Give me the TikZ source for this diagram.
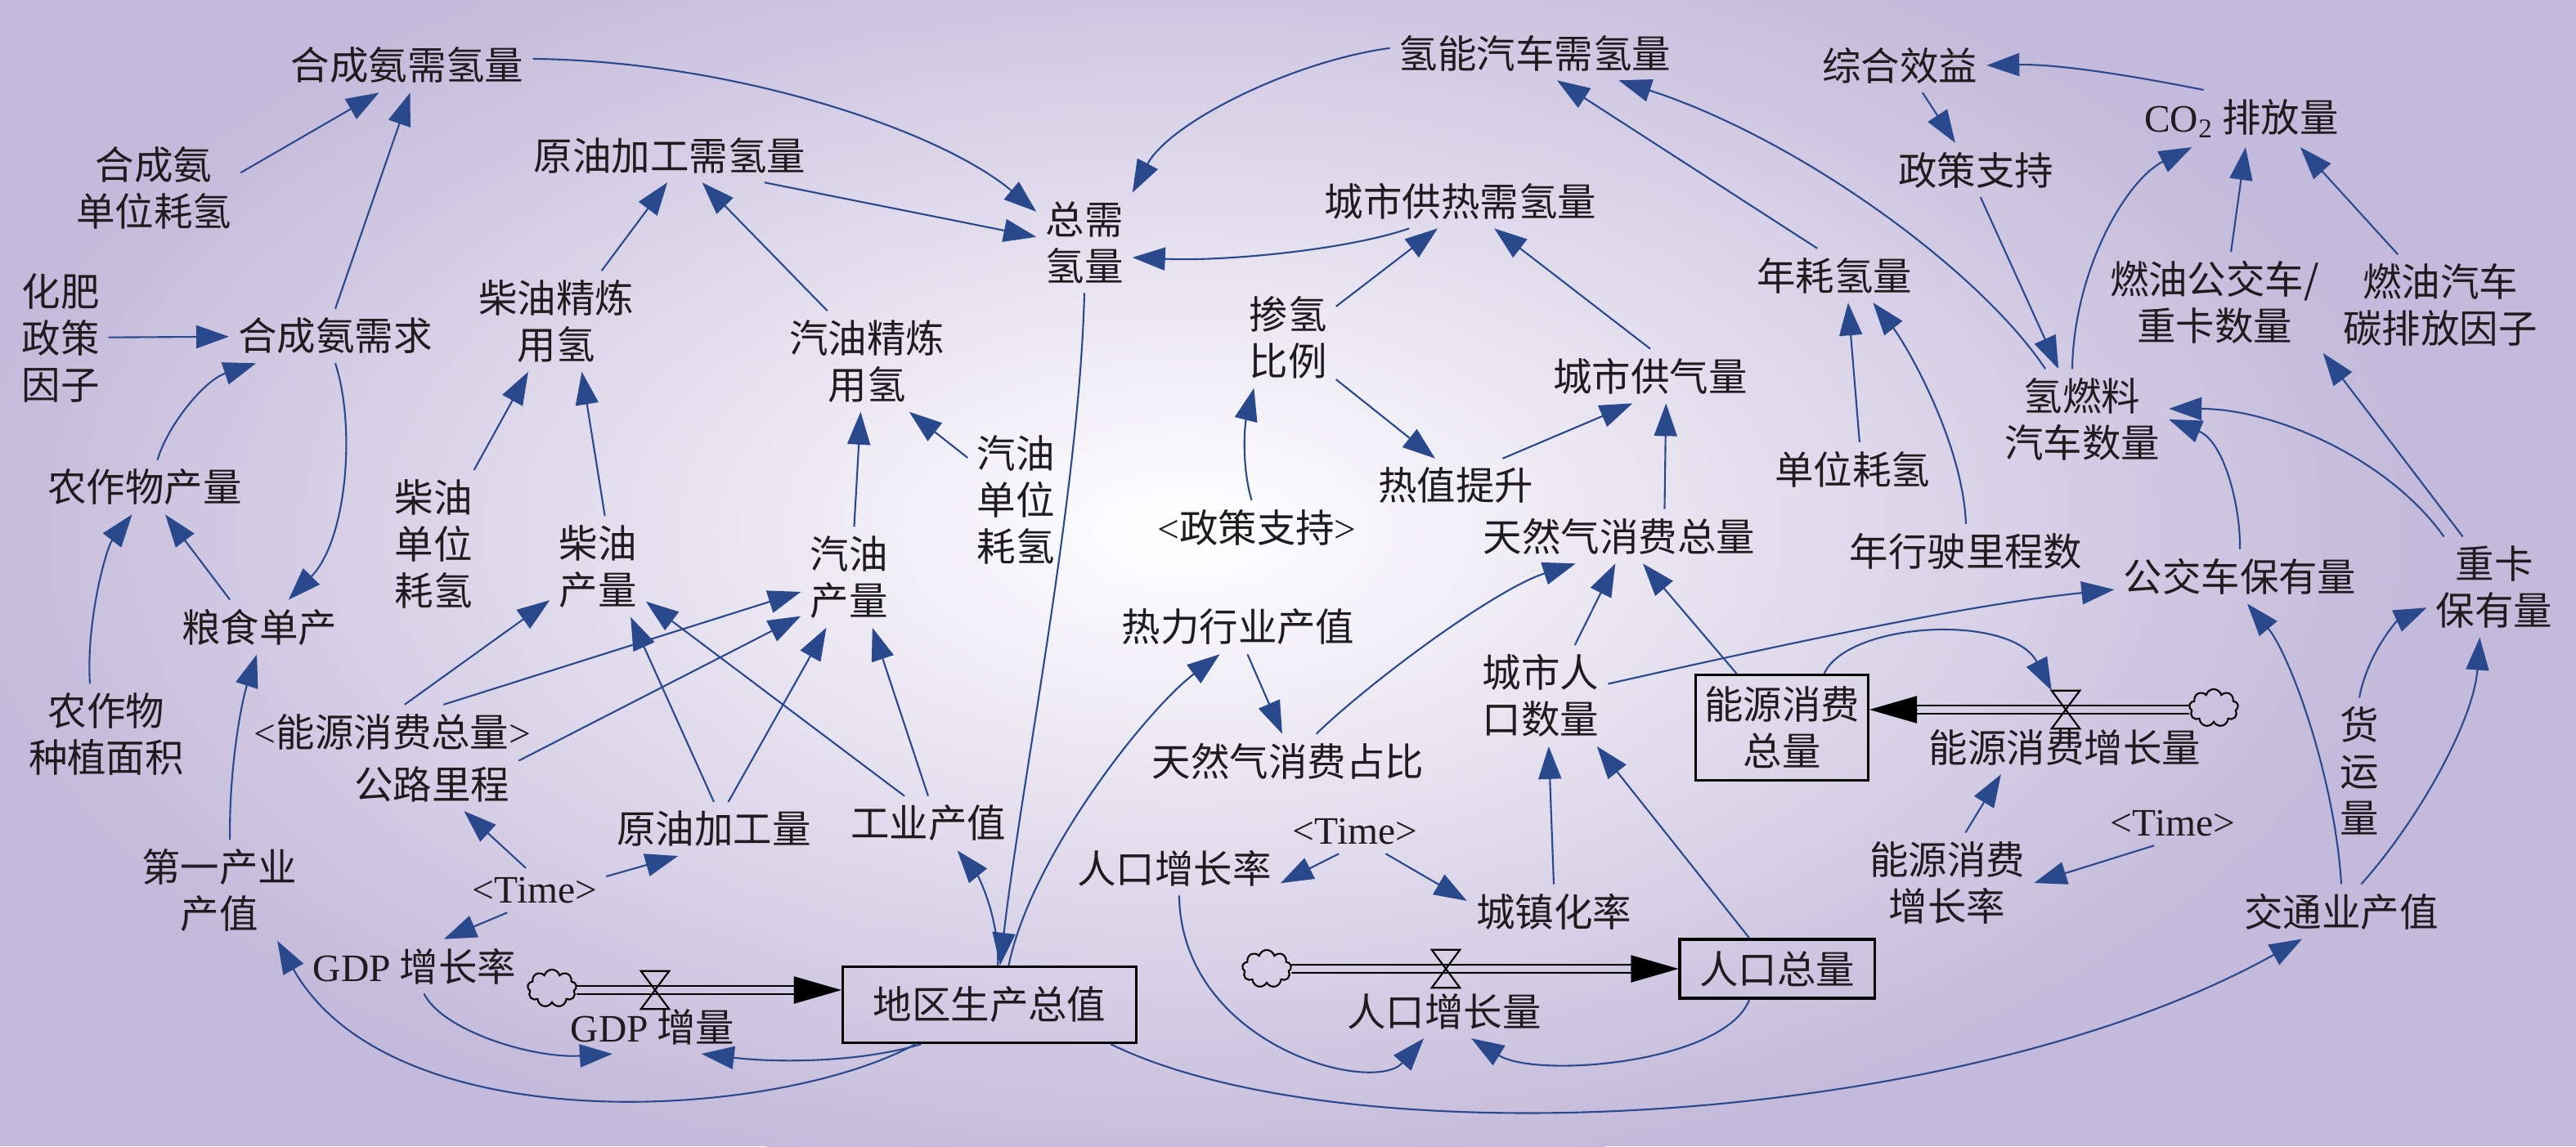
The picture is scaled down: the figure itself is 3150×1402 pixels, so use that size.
\documentclass[tikz,border=0pt]{standalone}
\usepackage{fontspec}
\setmainfont{Liberation Serif}
\newfontfamily\cjk{Noto Sans CJK SC}
\usetikzlibrary{arrows.meta,shapes.symbols}
\definecolor{bgedge}{RGB}{196,186,219}
\definecolor{linkblue}{RGB}{42,73,140}
\definecolor{txt}{RGB}{30,28,30}
\newcommand{\lat}[1]{{\rmfamily #1}}
\tikzset{
  var/.style={font=\cjk\fontsize{13.5}{16.2}\selectfont, text=txt, align=center, inner sep=3pt},
  stock/.style={var, draw=black, line width=0.9pt},
  link/.style={linkblue, line width=0.6pt, -{Triangle[length=0.4cm,width=0.28cm]}},
  pipe/.style={black, line width=0.6pt},
  flowhead/.style={black, line width=0.1pt, -{Triangle[length=16.5pt,width=9.5pt]}},
  valve/.style={minimum width=0.33cm, minimum height=0.45cm, inner sep=0pt},
  valvemark/.style={black, line width=0.6pt},
  source/.style={cloud, cloud puffs=9, aspect=1.3, draw=black, line width=0.6pt,
    minimum width=0.6cm, minimum height=0.46cm, inner sep=0pt}
}
\begin{document}
\begin{tikzpicture}[x=0.01cm,y=-0.01cm]
\useasboundingbox (0,0) rectangle (3150,1402);
\fill[bgedge] (0,0) rectangle (3150,1402);
\begin{scope}
\clip (0,0) rectangle (3150,1402);
\shade[inner color=white,outer color=bgedge] (1450,650) ellipse [x radius=15cm,y radius=8cm];
\end{scope}
% left part
\node[var] (hqxql) at (498,80) {合成氨需氢量};
\node[var] (hcadw) at (188,230) {合成氨\\单位耗氢};
\node[var] (hfzc) at (74,413) {化肥\\政策\\因子};
\node[var] (hcaxq) at (410,411) {合成氨需求};
\node[var] (yyjg) at (819,190) {原油加工需氢量};
\node[var] (cyjl) at (680,393) {柴油精炼\\用氢};
\node[var] (qyjl) at (1060,442) {汽油精炼\\用氢};
\node[var] (nzcl) at (177,596) {农作物产量};
\node[var] (cydw) at (530,665) {柴油\\单位\\耗氢};
\node[var] (cycl) at (731,693) {柴油\\产量};
\node[var] (qycl) at (1038,706) {汽油\\产量};
\node[var] (qydw) at (1242,611) {汽油\\单位\\耗氢};
\node[var] (lsdc) at (317,767) {粮食单产};
\node[var] (nzmj) at (130,898) {农作物\\种植面积};
\node[var] (nyxf) at (480,895) {\lat{<}能源消费总量\lat{>}};
\node[var] (glc) at (528,959) {公路里程};
\node[var] (dycz) at (268,1089) {第一产业\\产值};
\node[var] (time1) at (654,1089) {\lat{<Time>}};
\node[var] (yyjl) at (873,1014) {原油加工量};
\node[var] (gdpr) at (507,1182) {\lat{GDP} 增长率};
\node[var] (gdpd) at (798,1256) {\lat{GDP} 增量};
\node[var] (gyz) at (1135,1007) {工业产值};
\node[stock, minimum width=3.59cm, minimum height=0.93cm] (grp) at (1210,1229) {地区生产总值};
% middle part
\node[var] (zxq) at (1326,297) {总需\\氢量};
\node[var] (hyxq) at (1877,65) {氢能汽车需氢量};
\node[var] (gr) at (1786,246) {城市供热需氢量};
\node[var] (cq) at (1575,413) {掺氢\\比例};
\node[var] (gql) at (2018,460) {城市供气量};
\node[var] (rzt) at (1780,594) {热值提升};
\node[var] (zc2) at (1537,645) {\lat{<}政策支持\lat{>}};
\node[var] (trq) at (1980,656) {天然气消费总量};
\node[var] (rlc) at (1514,767) {热力行业产值};
\node[var] (trqzb) at (1575,931) {天然气消费占比};
\node[var] (csrk) at (1884,851) {城市人\\口数量};
\node[var] (time2) at (1657,1017) {\lat{<Time>}};
\node[var] (rkr) at (1436,1062) {人口增长率};
\node[var] (czh) at (1900,1115) {城镇化率};
\node[var] (rkl) at (1766,1237) {人口增长量};
\node[stock, minimum width=2.38cm, minimum height=0.72cm] (rkz) at (2173,1185) {人口总量};
% right part
\node[var] (zhxy) at (2323,80) {综合效益};
\node[var] (co2) at (2741,145) {\lat{CO\textsubscript{2}} 排放量};
\node[var] (zc) at (2416,208) {政策支持};
\node[var] (nhq) at (2243,337) {年耗氢量};
\node[var] (ryg) at (2708,370) {燃油公交车/\\重卡数量};
\node[var] (rycp) at (2984,373) {燃油汽车\\碳排放因子};
\node[var] (qrl) at (2546,513) {氢燃料\\汽车数量};
\node[var] (dwhq) at (2265,574) {单位耗氢};
\node[var] (nxs) at (2404,674) {年行驶里程数};
\node[var] (gjc) at (2739,705) {公交车保有量};
\node[var] (zk) at (3050,718) {重卡\\保有量};
\node[stock, minimum width=2.02cm, minimum height=1.29cm] (nyz) at (2179,890) {能源消费\\总量};
\node[var] (nyzl) at (2525,914) {能源消费增长量};
\node[var] (nyr) at (2381,1080) {能源消费\\增长率};
\node[var] (time3) at (2657,1007) {\lat{<Time>}};
\node[var] (jty) at (2863,1115) {交通业产值};
\node[var] (hyl) at (2885,943) {货\\运\\量};
% flows
\node[source] (cl1) at (675,1209) {};
\node[valve] (v1) at (801,1211) {};
\coordinate (e1) at (grp.west |- v1);
\draw[pipe] ([yshift=1.4pt]cl1.east |- v1) -- ([xshift=-14pt,yshift=1.4pt]e1);
\draw[pipe] ([yshift=-1.4pt]cl1.east |- v1) -- ([xshift=-14pt,yshift=-1.4pt]e1);
\draw[flowhead] ([xshift=-16.5pt]e1) -- (e1);
\draw[valvemark] (v1.north west) -- (v1.north east) -- (v1.south west) -- (v1.south east) -- cycle;
\node[source] (cl2) at (1549,1185) {};
\node[valve] (v2) at (1768,1185) {};
\coordinate (e2) at (rkz.west |- v2);
\draw[pipe] ([yshift=1.4pt]cl2.east) -- ([xshift=-14pt,yshift=1.4pt]e2);
\draw[pipe] ([yshift=-1.4pt]cl2.east) -- ([xshift=-14pt,yshift=-1.4pt]e2);
\draw[flowhead] ([xshift=-16.5pt]e2) -- (e2);
\draw[valvemark] (v2.north west) -- (v2.north east) -- (v2.south west) -- (v2.south east) -- cycle;
\node[source] (cl3) at (2707,866) {};
\node[valve] (v3) at (2526,868) {};
\coordinate (e3) at (nyz.east |- v3);
\draw[pipe] ([yshift=1.4pt]cl3.west |- v3) -- ([xshift=14pt,yshift=1.4pt]e3);
\draw[pipe] ([yshift=-1.4pt]cl3.west |- v3) -- ([xshift=14pt,yshift=-1.4pt]e3);
\draw[flowhead] ([xshift=16.5pt]e3) -- (e3);
\draw[valvemark] (v3.north west) -- (v3.north east) -- (v3.south west) -- (v3.south east) -- cycle;
% links, left
\draw[link] (hcadw.10) -- (hqxql.224);
\draw[link] (hcaxq.north) -- (hqxql.276);
\draw[link] (hfzc) -- (hcaxq);
\draw[link] (nzcl.65) .. controls (205,520) and (250,465) .. (hcaxq.199);
\draw[link] (hcaxq.south) .. controls (435,520) and (425,660) .. (lsdc.43);
\draw[link] (nzmj.108) .. controls (105,760) and (130,670) .. (nzcl.245);
\draw[link] (lsdc.137) -- (nzcl.307);
\draw[link] (dycz.78) .. controls (280,940) and (295,860) .. (lsdc.265);
\draw[link] (cyjl.48) -- (yyjg.265);
\draw[link] (qyjl.128) -- (yyjg.320);
\draw[link] (cydw) -- (cyjl);
\draw[link] (cycl.82) -- (cyjl.297);
\draw[link] (qycl.84) -- (qyjl.263);
\draw[link] (qydw.139) -- (qyjl.310);
\draw[link] (hqxql.3) .. controls (900,75) and (1150,160) .. (zxq.147);
\draw[link] (yyjg.344) -- (zxq.173);
\draw[link] (time1.112) -- (glc.320);
\draw[link] (time1.11) -- (yyjl.217);
\draw[link] (time1.219) -- (gdpr.43);
\draw[link] (nyxf.66) -- (cycl.215);
\draw[link] (nyxf.28) -- (qycl.197);
\draw[link] (glc.15) -- (qycl.219);
\draw[link] (yyjl.north) -- (cycl.303);
\draw[link] (yyjl.62) -- (qycl.246);
\draw[link] (gyz.north) -- (qycl.295);
\draw[link] (gyz.131) -- (cycl.-36);
\draw[link] (gdpr.289) .. controls (540,1260) and (650,1295) .. (gdpd.214);
\draw[link] (grp.210) .. controls (1050,1300) and (950,1300) .. (gdpd.331);
\draw[link] (grp.208) .. controls (950,1370) and (480,1400) .. (dycz.319);
% links, middle
\draw[link] (hyxq.178) .. controls (1580,75) and (1430,150) .. (zxq.north east);
\draw[link] (gr.208) .. controls (1650,305) and (1500,320) .. (zxq.-17);
\draw[link] (cq.33) -- (gr.230);
\draw[link] (gql.north) -- (gr.321);
\draw[link] (zc2.101) .. controls (1518,570) and (1522,520) .. (cq.236);
\draw[link] (cq.-41) -- (rzt.127);
\draw[link] (rzt.30) -- (gql.237);
\draw[link] (trq.31) -- (gql.300);
\draw[link] (zxq.south) .. controls (1320,600) and (1250,950) .. (grp.75);
\draw[link] (grp.78) .. controls (1222,1120) and (1195,1070) .. (gyz.317);
\draw[link] (grp.64) .. controls (1260,1050) and (1400,870) .. (rlc.236);
\draw[link] (rlc.289) -- (trqzb.102);
\draw[link] (trqzb.44) .. controls (1680,830) and (1830,720) .. (trq.212);
\draw[link] (csrk.56) -- (trq.262);
\draw[link] (nyz.130) -- (trq.311);
\draw[link] (czh.north) -- (csrk.279);
\draw[link] (rkz.132) -- (csrk.318);
\draw[link] (time2.234) -- (rkr.-8);
\draw[link] (time2.324) -- (czh.173);
\draw[link] (rkr.280) .. controls (1445,1280) and (1680,1340) .. (rkl.233);
\draw[link] (rkz.228) .. controls (2110,1300) and (1880,1320) .. (rkl.315);
\draw[link] (grp.342) .. controls (1650,1420) and (2400,1380) .. (jty.215);
% links, right
\draw[link] (jty.north) .. controls (2855,950) and (2800,800) .. (gjc.285);
\draw[link] (jty.54) .. controls (2960,1000) and (3025,880) .. (zk.254);
\draw[link] (hyl.north) .. controls (2895,800) and (2930,760) .. (zk.197);
\draw[link] (time3.230) -- (nyr.east);
\draw[link] (nyr.70) -- (nyzl.203);
\draw[link] (nyz.52) .. controls (2260,760) and (2460,750) .. (v3.north west);
\draw[link] (csrk.10) .. controls (2150,795) and (2400,740) .. (gjc.186);
\draw[link] (gjc.north) .. controls (2740,620) and (2720,540) .. (qrl.east);
\draw[link] (zk.135) .. controls (2920,560) and (2780,500) .. (qrl.7);
\draw[link] (zk.122) -- (ryg.-25);
\draw[link] (qrl.126) .. controls (2420,330) and (2200,170) .. (hyxq.342);
\draw[link] (nhq.122) -- (hyxq.309);
\draw[link] (dwhq.75) -- (nhq.297);
\draw[link] (nxs.north) .. controls (2400,540) and (2330,420) .. (nhq.325);
\draw[link] (co2.143) .. controls (2620,95) and (2520,78) .. (zhxy.east);
\draw[link] (zhxy.310) -- (zc.127);
\draw[link] (zc.280) -- (qrl.115);
\draw[link] (qrl.101) .. controls (2536,330) and (2600,220) .. (co2.210);
\draw[link] (ryg.72) -- (co2.278);
\draw[link] (rycp.130) -- (co2.334);
\end{tikzpicture}
\end{document}
